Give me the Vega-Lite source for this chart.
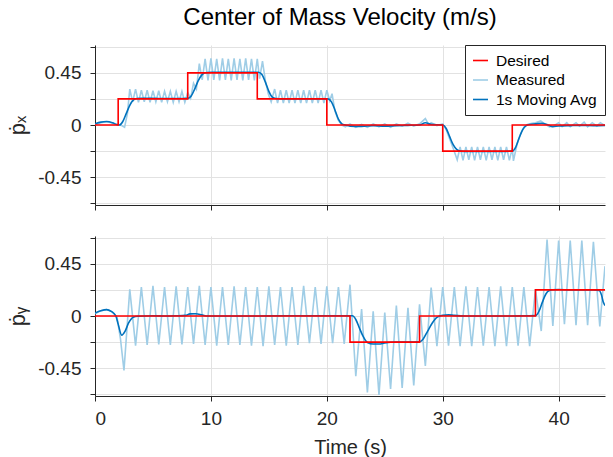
{
  "$schema": "https://vega.github.io/schema/vega-lite/v6.json",
  "padding": {"left": 6, "top": 5, "right": 5, "bottom": 5},
  "title": {"text": "Center of Mass Velocity (m/s)", "fontSize": 24, "font": "Liberation Sans", "fontWeight": "normal", "color": "#000000", "anchor": "middle", "frame": "group", "offset": 15, "dx": -10},
  "datasets": {
    "px": [
      {"series":"Desired","t":0,"v":0},{"series":"Desired","t":2,"v":0.225},{"series":"Desired","t":8,"v":0.45},{"series":"Desired","t":14,"v":0.225},{"series":"Desired","t":20,"v":0},{"series":"Desired","t":30,"v":-0.225},{"series":"Desired","t":36,"v":0},{"series":"Desired","t":44,"v":0},

      {"series":"1s Moving Avg","t":0,"v":0.01},{"series":"1s Moving Avg","t":0.5,"v":0.025},{"series":"1s Moving Avg","t":1,"v":0.03},{"series":"1s Moving Avg","t":1.5,"v":0.02},{"series":"1s Moving Avg","t":1.9,"v":0.003},{"series":"1s Moving Avg","t":2.1,"v":0.0},{"series":"1s Moving Avg","t":2.4,"v":0.03},{"series":"1s Moving Avg","t":2.7,"v":0.1},{"series":"1s Moving Avg","t":3.0,"v":0.17},{"series":"1s Moving Avg","t":3.3,"v":0.215},{"series":"1s Moving Avg","t":3.6,"v":0.228},{"series":"1s Moving Avg","t":4,"v":0.23},{"series":"1s Moving Avg","t":5,"v":0.23},{"series":"1s Moving Avg","t":6,"v":0.228},{"series":"1s Moving Avg","t":7,"v":0.228},{"series":"1s Moving Avg","t":8,"v":0.23},{"series":"1s Moving Avg","t":8.3,"v":0.25},{"series":"1s Moving Avg","t":8.6,"v":0.31},{"series":"1s Moving Avg","t":8.9,"v":0.38},{"series":"1s Moving Avg","t":9.2,"v":0.43},{"series":"1s Moving Avg","t":9.5,"v":0.45},{"series":"1s Moving Avg","t":10,"v":0.455},{"series":"1s Moving Avg","t":11,"v":0.455},{"series":"1s Moving Avg","t":12,"v":0.455},{"series":"1s Moving Avg","t":13,"v":0.455},{"series":"1s Moving Avg","t":14.1,"v":0.455},{"series":"1s Moving Avg","t":14.4,"v":0.435},{"series":"1s Moving Avg","t":14.7,"v":0.37},{"series":"1s Moving Avg","t":15.0,"v":0.29},{"series":"1s Moving Avg","t":15.3,"v":0.24},{"series":"1s Moving Avg","t":15.6,"v":0.228},{"series":"1s Moving Avg","t":16,"v":0.225},{"series":"1s Moving Avg","t":17,"v":0.225},{"series":"1s Moving Avg","t":18,"v":0.225},{"series":"1s Moving Avg","t":19,"v":0.225},{"series":"1s Moving Avg","t":20.1,"v":0.225},{"series":"1s Moving Avg","t":20.4,"v":0.2},{"series":"1s Moving Avg","t":20.7,"v":0.13},{"series":"1s Moving Avg","t":21.0,"v":0.05},{"series":"1s Moving Avg","t":21.3,"v":0.01},{"series":"1s Moving Avg","t":21.6,"v":0},{"series":"1s Moving Avg","t":22,"v":-0.01},{"series":"1s Moving Avg","t":23,"v":-0.012},{"series":"1s Moving Avg","t":24,"v":-0.005},{"series":"1s Moving Avg","t":25,"v":-0.01},{"series":"1s Moving Avg","t":26,"v":-0.005},{"series":"1s Moving Avg","t":27,"v":-0.003},{"series":"1s Moving Avg","t":28,"v":0.0},{"series":"1s Moving Avg","t":28.5,"v":0.02},{"series":"1s Moving Avg","t":29,"v":0.005},{"series":"1s Moving Avg","t":30,"v":0},{"series":"1s Moving Avg","t":30.3,"v":-0.03},{"series":"1s Moving Avg","t":30.6,"v":-0.1},{"series":"1s Moving Avg","t":30.9,"v":-0.17},{"series":"1s Moving Avg","t":31.2,"v":-0.21},{"series":"1s Moving Avg","t":31.5,"v":-0.225},{"series":"1s Moving Avg","t":32,"v":-0.228},{"series":"1s Moving Avg","t":33,"v":-0.228},{"series":"1s Moving Avg","t":34,"v":-0.228},{"series":"1s Moving Avg","t":35,"v":-0.228},{"series":"1s Moving Avg","t":36,"v":-0.225},{"series":"1s Moving Avg","t":36.3,"v":-0.19},{"series":"1s Moving Avg","t":36.6,"v":-0.11},{"series":"1s Moving Avg","t":36.9,"v":-0.04},{"series":"1s Moving Avg","t":37.2,"v":-0.005},{"series":"1s Moving Avg","t":37.5,"v":0.005},{"series":"1s Moving Avg","t":38,"v":0.01},{"series":"1s Moving Avg","t":38.5,"v":0.015},{"series":"1s Moving Avg","t":39,"v":0.005},{"series":"1s Moving Avg","t":39.5,"v":-0.015},{"series":"1s Moving Avg","t":40,"v":-0.008},{"series":"1s Moving Avg","t":41,"v":-0.005},{"series":"1s Moving Avg","t":42,"v":-0.003},{"series":"1s Moving Avg","t":43,"v":-0.005},{"series":"1s Moving Avg","t":44,"v":-0.003},

      {"series":"Measured","t":0,"v":0.005},{"series":"Measured","t":0.5,"v":0.02},{"series":"Measured","t":1,"v":0.028},{"series":"Measured","t":1.5,"v":0.018},{"series":"Measured","t":2,"v":0.002},{"series":"Measured","t":2.3,"v":-0.005},{"series":"Measured","t":2.55,"v":-0.02},{"series":"Measured","t":2.8,"v":0.1},{"series":"Measured","t":3.0,"v":0.31},{"series":"Measured","t":3.25,"v":0.2},{"series":"Measured","t":3.5,"v":0.31},{"series":"Measured","t":3.75,"v":0.195},{"series":"Measured","t":4.0,"v":0.3},{"series":"Measured","t":4.25,"v":0.2},{"series":"Measured","t":4.5,"v":0.3},{"series":"Measured","t":4.75,"v":0.195},{"series":"Measured","t":5.0,"v":0.295},{"series":"Measured","t":5.25,"v":0.2},{"series":"Measured","t":5.5,"v":0.295},{"series":"Measured","t":5.75,"v":0.195},{"series":"Measured","t":6.0,"v":0.29},{"series":"Measured","t":6.25,"v":0.2},{"series":"Measured","t":6.5,"v":0.29},{"series":"Measured","t":6.75,"v":0.195},{"series":"Measured","t":7.0,"v":0.29},{"series":"Measured","t":7.25,"v":0.2},{"series":"Measured","t":7.5,"v":0.29},{"series":"Measured","t":7.75,"v":0.195},{"series":"Measured","t":8.0,"v":0.28},{"series":"Measured","t":8.25,"v":0.23},{"series":"Measured","t":8.5,"v":0.36},{"series":"Measured","t":8.75,"v":0.31},{"series":"Measured","t":9.0,"v":0.53},{"series":"Measured","t":9.25,"v":0.39},{"series":"Measured","t":9.5,"v":0.57},{"series":"Measured","t":9.75,"v":0.385},{"series":"Measured","t":10.0,"v":0.575},{"series":"Measured","t":10.25,"v":0.39},{"series":"Measured","t":10.5,"v":0.57},{"series":"Measured","t":10.75,"v":0.385},{"series":"Measured","t":11.0,"v":0.575},{"series":"Measured","t":11.25,"v":0.39},{"series":"Measured","t":11.5,"v":0.57},{"series":"Measured","t":11.75,"v":0.385},{"series":"Measured","t":12.0,"v":0.575},{"series":"Measured","t":12.25,"v":0.39},{"series":"Measured","t":12.5,"v":0.57},{"series":"Measured","t":12.75,"v":0.385},{"series":"Measured","t":13.0,"v":0.575},{"series":"Measured","t":13.25,"v":0.39},{"series":"Measured","t":13.5,"v":0.57},{"series":"Measured","t":13.75,"v":0.385},{"series":"Measured","t":14.0,"v":0.57},{"series":"Measured","t":14.2,"v":0.4},{"series":"Measured","t":14.45,"v":0.55},{"series":"Measured","t":14.7,"v":0.38},{"series":"Measured","t":14.95,"v":0.27},{"series":"Measured","t":15.2,"v":0.2},{"series":"Measured","t":15.5,"v":0.31},{"series":"Measured","t":15.75,"v":0.19},{"series":"Measured","t":16.0,"v":0.3},{"series":"Measured","t":16.25,"v":0.19},{"series":"Measured","t":16.5,"v":0.3},{"series":"Measured","t":16.75,"v":0.19},{"series":"Measured","t":17.0,"v":0.3},{"series":"Measured","t":17.25,"v":0.19},{"series":"Measured","t":17.5,"v":0.3},{"series":"Measured","t":17.75,"v":0.19},{"series":"Measured","t":18.0,"v":0.3},{"series":"Measured","t":18.25,"v":0.19},{"series":"Measured","t":18.5,"v":0.3},{"series":"Measured","t":18.75,"v":0.19},{"series":"Measured","t":19.0,"v":0.3},{"series":"Measured","t":19.25,"v":0.19},{"series":"Measured","t":19.5,"v":0.3},{"series":"Measured","t":19.75,"v":0.19},{"series":"Measured","t":20.0,"v":0.3},{"series":"Measured","t":20.25,"v":0.21},{"series":"Measured","t":20.45,"v":0.27},{"series":"Measured","t":20.7,"v":0.12},{"series":"Measured","t":21.0,"v":0.04},{"series":"Measured","t":21.3,"v":0.0},{"series":"Measured","t":21.6,"v":-0.015},{"series":"Measured","t":22.0,"v":0.01},{"series":"Measured","t":22.5,"v":-0.02},{"series":"Measured","t":23.0,"v":0.005},{"series":"Measured","t":23.5,"v":-0.02},{"series":"Measured","t":24.0,"v":0.01},{"series":"Measured","t":24.5,"v":-0.015},{"series":"Measured","t":25.0,"v":0.01},{"series":"Measured","t":25.5,"v":-0.02},{"series":"Measured","t":26.0,"v":0.01},{"series":"Measured","t":26.5,"v":-0.01},{"series":"Measured","t":27.0,"v":0.015},{"series":"Measured","t":27.5,"v":-0.01},{"series":"Measured","t":28.0,"v":0.01},{"series":"Measured","t":28.5,"v":0.055},{"series":"Measured","t":28.8,"v":0.0},{"series":"Measured","t":29.0,"v":0.02},{"series":"Measured","t":29.5,"v":-0.005},{"series":"Measured","t":30.0,"v":0.01},{"series":"Measured","t":30.3,"v":-0.04},{"series":"Measured","t":30.6,"v":-0.12},{"series":"Measured","t":30.9,"v":-0.2},{"series":"Measured","t":31.25,"v":-0.3},{"series":"Measured","t":31.5,"v":-0.19},{"series":"Measured","t":31.75,"v":-0.305},{"series":"Measured","t":32.0,"v":-0.19},{"series":"Measured","t":32.25,"v":-0.3},{"series":"Measured","t":32.5,"v":-0.19},{"series":"Measured","t":32.75,"v":-0.305},{"series":"Measured","t":33.0,"v":-0.19},{"series":"Measured","t":33.25,"v":-0.3},{"series":"Measured","t":33.5,"v":-0.19},{"series":"Measured","t":33.75,"v":-0.305},{"series":"Measured","t":34.0,"v":-0.19},{"series":"Measured","t":34.25,"v":-0.3},{"series":"Measured","t":34.5,"v":-0.19},{"series":"Measured","t":34.75,"v":-0.305},{"series":"Measured","t":35.0,"v":-0.19},{"series":"Measured","t":35.25,"v":-0.3},{"series":"Measured","t":35.5,"v":-0.19},{"series":"Measured","t":35.75,"v":-0.305},{"series":"Measured","t":36.0,"v":-0.2},{"series":"Measured","t":36.1,"v":-0.31},{"series":"Measured","t":36.4,"v":-0.17},{"series":"Measured","t":36.7,"v":-0.08},{"series":"Measured","t":37.0,"v":-0.02},{"series":"Measured","t":37.3,"v":0.005},{"series":"Measured","t":37.7,"v":0.015},{"series":"Measured","t":38.0,"v":0.02},{"series":"Measured","t":38.45,"v":0.035},{"series":"Measured","t":38.8,"v":0.01},{"series":"Measured","t":39.2,"v":-0.017},{"series":"Measured","t":39.6,"v":-0.005},{"series":"Measured","t":40.0,"v":0.02},{"series":"Measured","t":40.3,"v":-0.015},{"series":"Measured","t":40.7,"v":0.02},{"series":"Measured","t":41.0,"v":-0.015},{"series":"Measured","t":41.5,"v":0.02},{"series":"Measured","t":41.8,"v":-0.01},{"series":"Measured","t":42.2,"v":0.025},{"series":"Measured","t":42.5,"v":-0.015},{"series":"Measured","t":42.9,"v":0.02},{"series":"Measured","t":43.3,"v":-0.01},{"series":"Measured","t":43.6,"v":0.02},{"series":"Measured","t":44.0,"v":-0.005}
    ],
    "py": [
      {"series":"Desired","t":0,"v":0},{"series":"Desired","t":22,"v":-0.225},{"series":"Desired","t":28,"v":0},{"series":"Desired","t":38,"v":0.225},{"series":"Desired","t":44,"v":0.225},

      {"series":"1s Moving Avg","t":0,"v":0.025},{"series":"1s Moving Avg","t":0.5,"v":0.045},{"series":"1s Moving Avg","t":1.0,"v":0.055},{"series":"1s Moving Avg","t":1.4,"v":0.04},{"series":"1s Moving Avg","t":1.8,"v":0.0},{"series":"1s Moving Avg","t":2.0,"v":-0.07},{"series":"1s Moving Avg","t":2.3,"v":-0.165},{"series":"1s Moving Avg","t":2.6,"v":-0.13},{"series":"1s Moving Avg","t":2.9,"v":-0.06},{"series":"1s Moving Avg","t":3.3,"v":-0.01},{"series":"1s Moving Avg","t":3.7,"v":-0.002},{"series":"1s Moving Avg","t":5,"v":0.002},{"series":"1s Moving Avg","t":6,"v":0},{"series":"1s Moving Avg","t":7,"v":0.002},{"series":"1s Moving Avg","t":7.8,"v":0.005},{"series":"1s Moving Avg","t":8.2,"v":0.018},{"series":"1s Moving Avg","t":8.7,"v":0.02},{"series":"1s Moving Avg","t":9.2,"v":0.01},{"series":"1s Moving Avg","t":9.6,"v":0},{"series":"1s Moving Avg","t":12,"v":0},{"series":"1s Moving Avg","t":14,"v":0},{"series":"1s Moving Avg","t":16,"v":0.002},{"series":"1s Moving Avg","t":18,"v":0.002},{"series":"1s Moving Avg","t":20,"v":0.002},{"series":"1s Moving Avg","t":22.2,"v":0.002},{"series":"1s Moving Avg","t":22.5,"v":-0.03},{"series":"1s Moving Avg","t":22.8,"v":-0.1},{"series":"1s Moving Avg","t":23.1,"v":-0.17},{"series":"1s Moving Avg","t":23.5,"v":-0.228},{"series":"1s Moving Avg","t":24,"v":-0.242},{"series":"1s Moving Avg","t":24.5,"v":-0.242},{"series":"1s Moving Avg","t":25,"v":-0.232},{"series":"1s Moving Avg","t":25.5,"v":-0.226},{"series":"1s Moving Avg","t":26,"v":-0.225},{"series":"1s Moving Avg","t":27,"v":-0.225},{"series":"1s Moving Avg","t":28,"v":-0.222},{"series":"1s Moving Avg","t":28.3,"v":-0.2},{"series":"1s Moving Avg","t":28.7,"v":-0.13},{"series":"1s Moving Avg","t":29.1,"v":-0.06},{"series":"1s Moving Avg","t":29.5,"v":-0.012},{"series":"1s Moving Avg","t":30,"v":0.006},{"series":"1s Moving Avg","t":30.5,"v":0.01},{"series":"1s Moving Avg","t":31,"v":0.005},{"series":"1s Moving Avg","t":32,"v":0},{"series":"1s Moving Avg","t":34,"v":0},{"series":"1s Moving Avg","t":36,"v":0},{"series":"1s Moving Avg","t":37,"v":0.002},{"series":"1s Moving Avg","t":38,"v":0.003},{"series":"1s Moving Avg","t":38.3,"v":0.04},{"series":"1s Moving Avg","t":38.6,"v":0.12},{"series":"1s Moving Avg","t":38.9,"v":0.19},{"series":"1s Moving Avg","t":39.2,"v":0.22},{"series":"1s Moving Avg","t":39.5,"v":0.226},{"series":"1s Moving Avg","t":40,"v":0.228},{"series":"1s Moving Avg","t":41,"v":0.225},{"series":"1s Moving Avg","t":42,"v":0.225},{"series":"1s Moving Avg","t":43,"v":0.225},{"series":"1s Moving Avg","t":43.5,"v":0.22},{"series":"1s Moving Avg","t":43.7,"v":0.18},{"series":"1s Moving Avg","t":43.85,"v":0.12},{"series":"1s Moving Avg","t":44,"v":0.09},

      {"series":"Measured","t":0,"v":0.02},{"series":"Measured","t":0.5,"v":0.045},{"series":"Measured","t":1.0,"v":0.055},{"series":"Measured","t":1.5,"v":0.035},{"series":"Measured","t":1.9,"v":-0.01},{"series":"Measured","t":2.2,"v":-0.2},{"series":"Measured","t":2.5,"v":-0.47},{"series":"Measured","t":3.0,"v":0.23},{"series":"Measured","t":3.5,"v":-0.255},{"series":"Measured","t":4.0,"v":0.25},{"series":"Measured","t":4.5,"v":-0.25},{"series":"Measured","t":5.0,"v":0.26},{"series":"Measured","t":5.5,"v":-0.245},{"series":"Measured","t":6.0,"v":0.25},{"series":"Measured","t":6.5,"v":-0.25},{"series":"Measured","t":7.0,"v":0.255},{"series":"Measured","t":7.5,"v":-0.245},{"series":"Measured","t":8.0,"v":0.25},{"series":"Measured","t":8.5,"v":-0.24},{"series":"Measured","t":9.0,"v":0.26},{"series":"Measured","t":9.5,"v":-0.25},{"series":"Measured","t":10.0,"v":0.25},{"series":"Measured","t":10.5,"v":-0.255},{"series":"Measured","t":11.0,"v":0.25},{"series":"Measured","t":11.5,"v":-0.25},{"series":"Measured","t":12.0,"v":0.255},{"series":"Measured","t":12.5,"v":-0.25},{"series":"Measured","t":13.0,"v":0.25},{"series":"Measured","t":13.5,"v":-0.255},{"series":"Measured","t":14.0,"v":0.25},{"series":"Measured","t":14.5,"v":-0.26},{"series":"Measured","t":15.0,"v":0.255},{"series":"Measured","t":15.5,"v":-0.25},{"series":"Measured","t":16.0,"v":0.25},{"series":"Measured","t":16.5,"v":-0.255},{"series":"Measured","t":17.0,"v":0.25},{"series":"Measured","t":17.5,"v":-0.25},{"series":"Measured","t":18.0,"v":0.26},{"series":"Measured","t":18.5,"v":-0.235},{"series":"Measured","t":19.0,"v":0.25},{"series":"Measured","t":19.5,"v":-0.24},{"series":"Measured","t":20.0,"v":0.255},{"series":"Measured","t":20.5,"v":-0.235},{"series":"Measured","t":21.0,"v":0.25},{"series":"Measured","t":21.5,"v":-0.24},{"series":"Measured","t":22.0,"v":0.27},{"series":"Measured","t":22.5,"v":-0.52},{"series":"Measured","t":23.0,"v":0.06},{"series":"Measured","t":23.5,"v":-0.66},{"series":"Measured","t":24.0,"v":0.04},{"series":"Measured","t":24.5,"v":-0.68},{"series":"Measured","t":25.0,"v":0.03},{"series":"Measured","t":25.5,"v":-0.63},{"series":"Measured","t":26.0,"v":0.09},{"series":"Measured","t":26.5,"v":-0.62},{"series":"Measured","t":27.0,"v":0.07},{"series":"Measured","t":27.5,"v":-0.6},{"series":"Measured","t":28.0,"v":0.1},{"series":"Measured","t":28.5,"v":-0.43},{"series":"Measured","t":29.0,"v":0.245},{"series":"Measured","t":29.5,"v":-0.26},{"series":"Measured","t":30.0,"v":0.25},{"series":"Measured","t":30.5,"v":-0.255},{"series":"Measured","t":31.0,"v":0.25},{"series":"Measured","t":31.5,"v":-0.26},{"series":"Measured","t":32.0,"v":0.255},{"series":"Measured","t":32.5,"v":-0.26},{"series":"Measured","t":33.0,"v":0.25},{"series":"Measured","t":33.5,"v":-0.255},{"series":"Measured","t":34.0,"v":0.25},{"series":"Measured","t":34.5,"v":-0.26},{"series":"Measured","t":35.0,"v":0.255},{"series":"Measured","t":35.5,"v":-0.26},{"series":"Measured","t":36.0,"v":0.25},{"series":"Measured","t":36.5,"v":-0.255},{"series":"Measured","t":37.0,"v":0.25},{"series":"Measured","t":37.5,"v":-0.26},{"series":"Measured","t":38.0,"v":0.23},{"series":"Measured","t":38.5,"v":-0.13},{"series":"Measured","t":39.0,"v":0.66},{"series":"Measured","t":39.5,"v":-0.085},{"series":"Measured","t":40.0,"v":0.65},{"series":"Measured","t":40.5,"v":-0.07},{"series":"Measured","t":41.0,"v":0.65},{"series":"Measured","t":41.5,"v":-0.08},{"series":"Measured","t":42.0,"v":0.65},{"series":"Measured","t":42.5,"v":-0.08},{"series":"Measured","t":43.0,"v":0.64},{"series":"Measured","t":43.55,"v":-0.09},{"series":"Measured","t":44.0,"v":0.43}
    ]
  },
  "spacing": 31,
  "bounds": "flush",
  "resolve": {"scale": {"color": "independent", "strokeWidth": "independent"}, "legend": {"color": "independent", "strokeWidth": "independent"}},
  "vconcat": [
    {
      "width": 510,
      "height": 160,
      "data": {"name": "px"},
      "encoding": {
        "x": {"field": "t", "type": "quantitative", "scale": {"domain": [0, 44], "nice": false, "zero": false}, "axis": {"values": [0, 10, 20, 30, 40], "labels": false, "title": null}},
        "y": {"field": "v", "type": "quantitative", "scale": {"domain": [-0.69, 0.69], "nice": false, "zero": false}, "axis": {"values": [-0.675, -0.45, -0.225, 0, 0.225, 0.45, 0.675], "labelExpr": "datum.value == 0.45 ? '0.45' : datum.value == -0.45 ? '-0.45' : datum.value == 0 ? '0' : ''", "title": "ṗₓ"}},
        "color": {"field": "series", "type": "nominal", "scale": {"domain": ["Desired", "Measured", "1s Moving Avg"], "range": ["#ff0000", "#9fcde6", "#0072bd"]}, "legend": {"title": null}},
        "strokeWidth": {"field": "series", "type": "nominal", "scale": {"domain": ["Desired", "Measured", "1s Moving Avg"], "range": [1.6, 1.6, 3.6]}, "legend": {"title": null}}
      },
      "layer": [
        {"transform": [{"filter": "datum.series == 'Measured'"}], "mark": {"type": "line", "clip": true}},
        {"transform": [{"filter": "datum.series == '1s Moving Avg'"}], "mark": {"type": "line", "interpolate": "monotone", "clip": true}},
        {"transform": [{"filter": "datum.series == 'Desired'"}], "mark": {"type": "line", "interpolate": "step-after", "clip": true}}
      ]
    },
    {
      "width": 510,
      "height": 160,
      "data": {"name": "py"},
      "encoding": {
        "x": {"field": "t", "type": "quantitative", "scale": {"domain": [0, 44], "nice": false, "zero": false}, "axis": {"values": [0, 10, 20, 30, 40], "title": "Time (s)", "titlePadding": 9, "titleFontSize": 20}},
        "y": {"field": "v", "type": "quantitative", "scale": {"domain": [-0.69, 0.69], "nice": false, "zero": false}, "axis": {"values": [-0.675, -0.45, -0.225, 0, 0.225, 0.45, 0.675], "labelExpr": "datum.value == 0.45 ? '0.45' : datum.value == -0.45 ? '-0.45' : datum.value == 0 ? '0' : ''", "title": "ṗᵧ"}},
        "color": {"field": "series", "type": "nominal", "scale": {"domain": ["Desired", "Measured", "1s Moving Avg"], "range": ["#ff0000", "#9fcde6", "#0072bd"]}, "legend": null},
        "strokeWidth": {"field": "series", "type": "nominal", "scale": {"domain": ["Desired", "Measured", "1s Moving Avg"], "range": [1.6, 1.6, 3.6]}, "legend": null}
      },
      "layer": [
        {"transform": [{"filter": "datum.series == 'Measured'"}], "mark": {"type": "line", "clip": true}},
        {"transform": [{"filter": "datum.series == '1s Moving Avg'"}], "mark": {"type": "line", "interpolate": "monotone", "clip": true}},
        {"transform": [{"filter": "datum.series == 'Desired'"}], "mark": {"type": "line", "interpolate": "step-after", "clip": true}}
      ]
    }
  ],
  "config": {
    "view": {"stroke": null},
    "font": "Liberation Sans",
    "axis": {
      "labelFont": "Liberation Sans",
      "titleFont": "Liberation Sans",
      "labelFontSize": 19,
      "titleFontSize": 20,
      "titleFontWeight": "normal",
      "labelColor": "#262626",
      "titleColor": "#262626",
      "domainColor": "#262626",
      "tickColor": "#262626",
      "domainWidth": 1,
      "tickWidth": 1,
      "tickSize": 5,
      "labelPadding": 5,
      "gridColor": "#e2e2e2",
      "gridWidth": 1
    },
    "axisY": {"titleFontSize": 22, "titlePadding": 8, "labelPadding": 9},
    "axisX": {"labelPadding": 8},
    "legend": {
      "orient": "top-right",
      "offset": 0,
      "padding": 7,
      "strokeColor": "#262626",
      "fillColor": "#ffffff",
      "cornerRadius": 0,
      "labelFont": "Liberation Sans",
      "labelFontSize": 15.5,
      "labelColor": "#000000",
      "labelLimit": 0,
      "symbolType": "stroke",
      "symbolSize": 225,
      "rowPadding": 2.5,
      "labelOffset": 7
    }
  }
}
